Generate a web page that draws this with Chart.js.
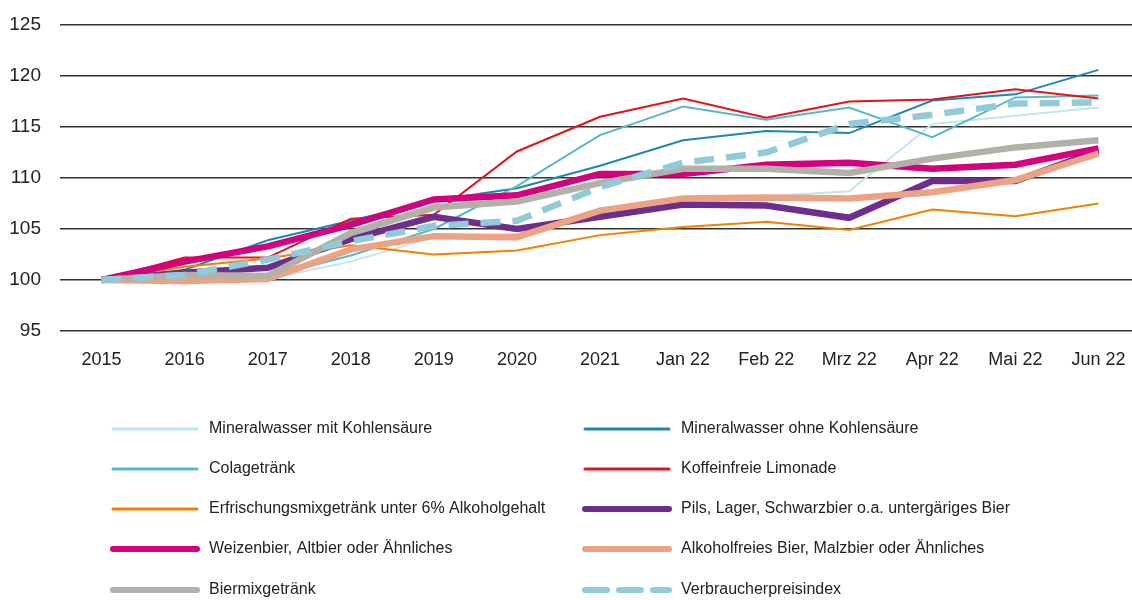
<!DOCTYPE html>
<html>
<head>
<meta charset="utf-8">
<script src="https://cdn.jsdelivr.net/npm/chart.js@4.4.0/dist/chart.umd.min.js"></script>
<style>
  html, body { margin: 0; padding: 0; background: #fff; overflow: hidden; }
  #wrap { position: relative; width: 1140px; height: 600px; }
</style>
</head>
<body>
<div id="wrap"><canvas id="myChart" width="1140" height="600"></canvas></div>
<script>
var labels = ['2015', '2016', '2017', '2018', '2019', '2020', '2021', 'Jan 22', 'Feb 22', 'Mrz 22', 'Apr 22', 'Mai 22', 'Jun 22'];

var yTicks = [95, 100, 105, 110, 115, 120, 125];

var seriesNames = [
  'Mineralwasser mit Kohlensäure',
  'Mineralwasser ohne Kohlensäure',
  'Colagetränk',
  'Koffeinfreie Limonade',
  'Erfrischungsmixgetränk unter 6% Alkoholgehalt',
  'Pils, Lager, Schwarzbier o.a. untergäriges Bier',
  'Weizenbier, Altbier oder Ähnliches',
  'Alkoholfreies Bier, Malzbier oder Ähnliches',
  'Biermixgetränk',
  'Verbraucherpreisindex'
];

var mitKohlensaeure = [100, 99.9, 100.1, 101.8, 104.2, 104.5, 107.0, 108.0, 108.2, 108.7, 115.3, 116.1, 116.9];
var ohneKohlensaeure = [100, 101.0, 103.9, 105.8, 107.8, 109.0, 111.2, 113.7, 114.6, 114.4, 117.6, 118.2, 120.6];
var cola = [100, 99.9, 100.3, 102.4, 105.0, 109.2, 114.2, 117.0, 115.7, 116.9, 114.0, 117.9, 118.1];
var limonade = [100, 102.2, 102.2, 106.0, 106.4, 112.6, 116.0, 117.8, 115.9, 117.5, 117.7, 118.7, 117.8];
var mixgetraenk = [100, 101.3, 102.1, 103.4, 102.5, 102.9, 104.4, 105.2, 105.7, 104.9, 106.9, 106.25, 107.5];
var pils = [100, 100.7, 101.2, 104.0, 106.2, 105.0, 106.2, 107.4, 107.3, 106.1, 109.7, 109.7, 112.7];
var weizen = [100, 101.8, 103.3, 105.4, 107.9, 108.3, 110.4, 110.4, 111.3, 111.5, 110.9, 111.3, 112.9];
var alkoholfrei = [100, 99.9, 100.1, 103.0, 104.3, 104.2, 106.8, 108.0, 108.1, 108.0, 108.6, 109.8, 112.4];
var biermix = [100, 100.5, 100.4, 104.6, 107.1, 107.7, 109.5, 110.9, 110.9, 110.5, 111.9, 113.0, 113.7];
var vpi = [100, 100.5, 102.0, 103.8, 105.3, 105.8, 109.1, 111.5, 112.5, 115.3, 116.2, 117.3, 117.4];

var FONT = "'Liberation Sans', Arial, sans-serif";

function line(label, data, color, width, order, dash) {
  return {
    label: label,
    data: data,
    borderColor: color,
    backgroundColor: color,
    borderWidth: width,
    borderDash: dash || [],
    pointRadius: 0,
    tension: 0,
    fill: false,
    order: order
  };
}

var datasets = [
  line(seriesNames[0], mitKohlensaeure, '#c3e5ec', 2, 9),
  line(seriesNames[1], ohneKohlensaeure, '#1b87b3', 2, 8),
  line(seriesNames[2], cola, '#58b7c9', 2, 7),
  line(seriesNames[3], limonade, '#e3131b', 2, 6),
  line(seriesNames[4], mixgetraenk, '#f08200', 2, 5),
  line(seriesNames[5], pils, '#6d2e8d', 6.5, 4),
  line(seriesNames[6], weizen, '#d5007d', 6.5, 3),
  line(seriesNames[7], alkoholfrei, '#eda283', 6.5, 2),
  line(seriesNames[8], biermix, '#b1b1a9', 6.5, 1),
  line(seriesNames[9], vpi, '#92cbd7', 6.5, 0, [20, 12])
];

// legend in two columns below the plot
var legendPlugin = {
  id: 'twoColLegend',
  afterDraw: function (chart) {
    var ctx = chart.ctx;
    var colX = [113, 585];
    var rowY = [429, 469, 509, 549, 590];
    ctx.save();
    ctx.font = '16px ' + FONT;
    ctx.fillStyle = '#222';
    ctx.textBaseline = 'middle';
    chart.data.datasets.forEach(function (ds, i) {
      var x = colX[i % 2];
      var y = rowY[Math.floor(i / 2)];
      ctx.beginPath();
      ctx.strokeStyle = ds.borderColor;
      ctx.lineWidth = ds.borderWidth === 2 ? 3 : 6;
      ctx.lineCap = 'round';
      ctx.setLineDash(ds.borderDash.length ? [22, 12] : []);
      ctx.moveTo(x, y);
      ctx.lineTo(x + 84, y);
      ctx.stroke();
      ctx.fillText(ds.label, x + 96, y);
    });
    ctx.restore();
  }
};

const ctx = document.getElementById('myChart');

new Chart(ctx, {
  type: 'line',
  data: {
    labels: labels,
    datasets: datasets
  },
  options: {
    responsive: false,
    animation: false,
    layout: { padding: { top: 25, right: 0, bottom: 0, left: 0 } },
    plugins: {
      legend: { display: false },
      tooltip: { enabled: false }
    },
    scales: {
      x: {
        offset: true,
        grid: { display: false, drawTicks: false },
        border: { display: false },
        ticks: { color: '#222', padding: 18, font: { family: FONT, size: 18 }, maxRotation: 0 },
        afterFit: function (scale) {
          scale.height = 269;
          scale.paddingLeft = 0;
          scale.paddingRight = 0;
        }
      },
      y: {
        min: 95,
        max: 125,
        afterBuildTicks: function (scale) {
          scale.ticks = yTicks.map(function (v) { return { value: v }; });
        },
        grid: { color: '#333', lineWidth: 1.5, drawTicks: false },
        border: { display: false },
        ticks: { color: '#222', padding: 19, font: { family: FONT, size: 19 } },
        afterFit: function (scale) {
          scale.width = 60;
          scale.paddingTop = 0;
          scale.paddingBottom = 0;
        }
      }
    }
  },
  plugins: [legendPlugin]
});
</script>
</body>
</html>
